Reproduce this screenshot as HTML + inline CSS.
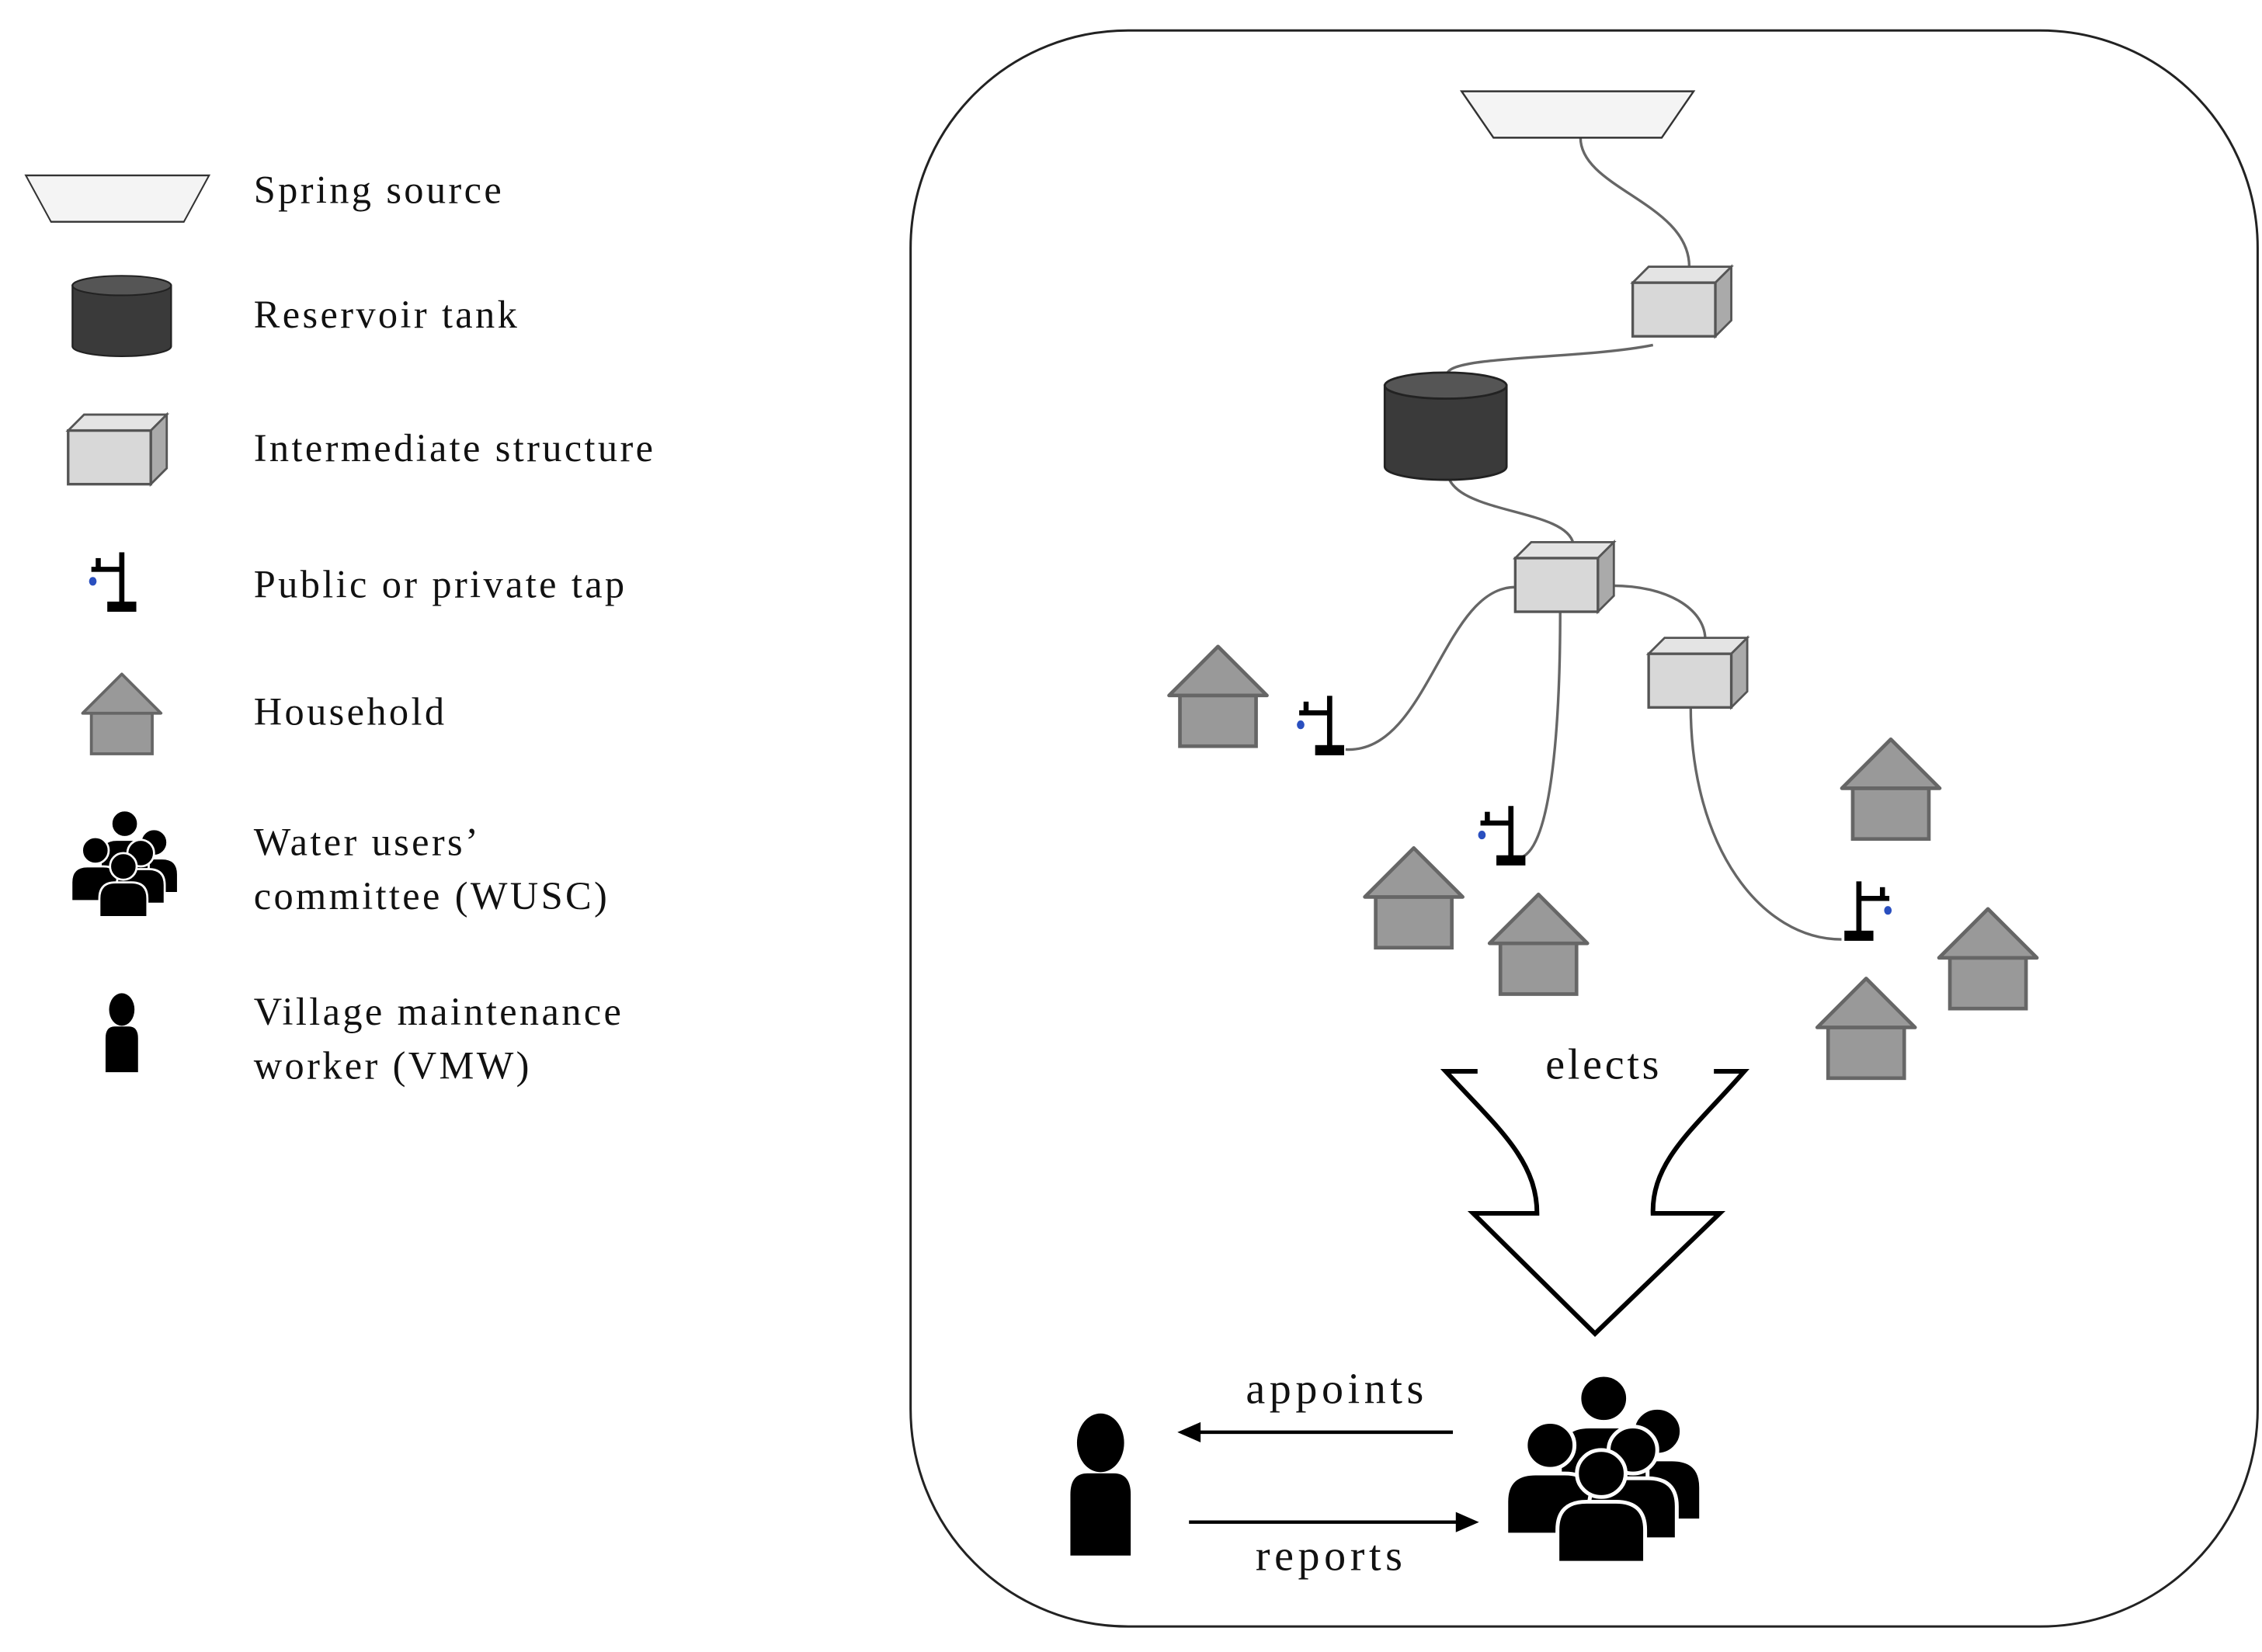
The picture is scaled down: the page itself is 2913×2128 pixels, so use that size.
<!DOCTYPE html>
<html><head><meta charset="utf-8"><style>
html,body{margin:0;padding:0;background:#fff;}
svg{display:block;}
text{font-family:"Liberation Serif",serif;fill:#111;}
</style></head><body>
<svg width="2913" height="2128" viewBox="0 0 1560 1139.6" preserveAspectRatio="none" xmlns="http://www.w3.org/2000/svg">
<defs>
  <g id="spring"><polygon points="-80,0 80,0 58,32 -58,32" fill="#f4f4f4" stroke="#333" stroke-width="1.3"/></g>
  <g id="tank">
    <path d="M-42,0 L-42,56 A42,9 0 0 0 42,56 L42,0 Z" fill="#3a3a3a" stroke="#222" stroke-width="1.5"/>
    <ellipse cx="0" cy="0" rx="42" ry="9" fill="#555" stroke="#222" stroke-width="1.5"/>
  </g>
  <g id="box">
    <polygon points="0,0 11,-11 68,-11 57,0" fill="#e4e4e4" stroke="#555" stroke-width="1.5"/>
    <polygon points="57,0 68,-11 68,26 57,37" fill="#aaa" stroke="#555" stroke-width="1.5"/>
    <rect x="0" y="0" width="57" height="37" fill="#d8d8d8" stroke="#555" stroke-width="1.8"/>
  </g>
  <g id="tap">
    <rect x="-1.8" y="-41" width="3.6" height="36" fill="#000"/>
    <rect x="-21" y="-31" width="21" height="3.5" fill="#000"/>
    <rect x="-18" y="-37" width="3.5" height="8" fill="#000"/>
    <rect x="-10" y="-7" width="20" height="7" fill="#000"/>
    <ellipse cx="-20" cy="-21" rx="2.6" ry="3" fill="#2a4fbf"/>
  </g>
  <g id="house">
    <rect x="-21" y="27" width="42" height="28" fill="#999" stroke="#666" stroke-width="2"/>
    <polygon points="0,0 27,27 -27,27" fill="#999" stroke="#666" stroke-width="2" stroke-linejoin="round"/>
  </g>
  <g id="person">
    <circle cx="0" cy="-14" r="12.5"/>
    <path d="M-16,34 L-16,8 Q-16,-1 -7,-1 L7,-1 Q16,-1 16,8 L16,34 Z"/>
  </g>
  <g id="wu">
    <circle cx="0" cy="-12" r="10"/>
    <path d="M-18,26 L-18,12 Q-18,0 -6,0 L6,0 Q18,0 18,12 L18,26 Z"/>
  </g>
  <g id="wusc" stroke="#fff" stroke-width="1.6" fill="#000">
    <use href="#wu" x="22" y="-2"/>
    <use href="#wu" x="0" y="-16"/>
    <use href="#wu" x="-22" y="4"/>
    <use href="#wu" x="12" y="6"/>
    <use href="#wu" x="-1" y="16"/>
  </g>
</defs>

<!-- Legend -->
<g transform="translate(81,121) scale(0.79,1)"><use href="#spring"/></g>
<g transform="translate(84,197) scale(0.81,0.75)"><use href="#tank"/></g>
<use href="#box" x="47" y="297"/>
<use href="#tap" x="84" y="422"/>
<use href="#house" x="84" y="465"/>
<g transform="translate(86,594) scale(0.92)"><use href="#wusc"/></g>
<g transform="translate(84,709) scale(0.7,0.9)" fill="#000"><use href="#person"/></g>

<g font-size="27" letter-spacing="1.8">
<text x="175" y="140">Spring source</text>
<text x="175" y="226">Reservoir  tank</text>
<text x="175" y="318">Intermediate  structure</text>
<text x="175" y="412">Public or private tap</text>
<text x="175" y="500">Household</text>
<text x="175" y="590">Water users’</text>
<text x="175" y="627">committee (WUSC)</text>
<text x="175" y="707">Village  maintenance</text>
<text x="175" y="744">worker (VMW)</text>
</g>

<!-- Main frame -->
<rect x="628" y="21" width="929" height="1101" rx="150" ry="150" fill="none" stroke="#222" stroke-width="1.6"/>

<!-- connectors -->
<g fill="none" stroke="#666" stroke-width="1.8">
<path d="M1090,95 C1090,130 1165,140 1165,184"/>
<path d="M1140,238 C1090,248 1000,245 998,258"/>
<path d="M998,325 C1000,355 1080,350 1085,375"/>
<path d="M1045,405 C995,405 985,520 928,517"/>
<path d="M1076,421 C1076,500 1070,592 1046,592"/>
<path d="M1112,404 C1150,404 1175,420 1176,440"/>
<path d="M1166,487 C1166,585 1215,648 1270,648"/>
</g>

<use href="#spring" x="1088" y="63"/>
<use href="#box" x="1126" y="195"/>
<use href="#tank" x="997" y="266"/>
<use href="#box" x="1045" y="385"/>
<use href="#box" x="1137" y="451"/>

<use href="#tap" x="917" y="521"/>
<use href="#tap" x="1042" y="597"/>
<g transform="translate(1282,649) scale(-1,1)"><use href="#tap"/></g>

<g transform="translate(840,446) scale(1.25)"><use href="#house"/></g>
<g transform="translate(975,585) scale(1.25)"><use href="#house"/></g>
<g transform="translate(1061,617) scale(1.25)"><use href="#house"/></g>
<g transform="translate(1304,510) scale(1.25)"><use href="#house"/></g>
<g transform="translate(1371,627) scale(1.25)"><use href="#house"/></g>
<g transform="translate(1287,675) scale(1.25)"><use href="#house"/></g>

<!-- elects arrow -->
<path d="M1019,739 L997,739 C1032,777 1060,800 1060,837 L1016,837 L1100,920 L1186,837 L1140,837 C1139,800 1170,777 1203,739 L1182,739" fill="none" stroke="#000" stroke-width="3.2"/>
<text x="1106" y="744" font-size="30" letter-spacing="2" text-anchor="middle">elects</text>

<!-- WUSC big and VMW big -->
<g transform="translate(1106,1010) scale(1.68,1.62)"><use href="#wusc"/></g>
<g transform="translate(759,1018) scale(1.3,1.62)" fill="#000"><use href="#person"/></g>

<!-- appoints / reports -->
<line x1="1002" y1="988" x2="826" y2="988" stroke="#000" stroke-width="2.4"/>
<polygon points="812,988 828,981 828,995" fill="#000"/>
<text x="922" y="968" font-size="30" letter-spacing="3" text-anchor="middle">appoints</text>
<line x1="820" y1="1050" x2="1005" y2="1050" stroke="#000" stroke-width="2.4"/>
<polygon points="1020,1050 1004,1043 1004,1057" fill="#000"/>
<text x="918" y="1083" font-size="30" letter-spacing="3" text-anchor="middle">reports</text>
</svg>
</body></html>
